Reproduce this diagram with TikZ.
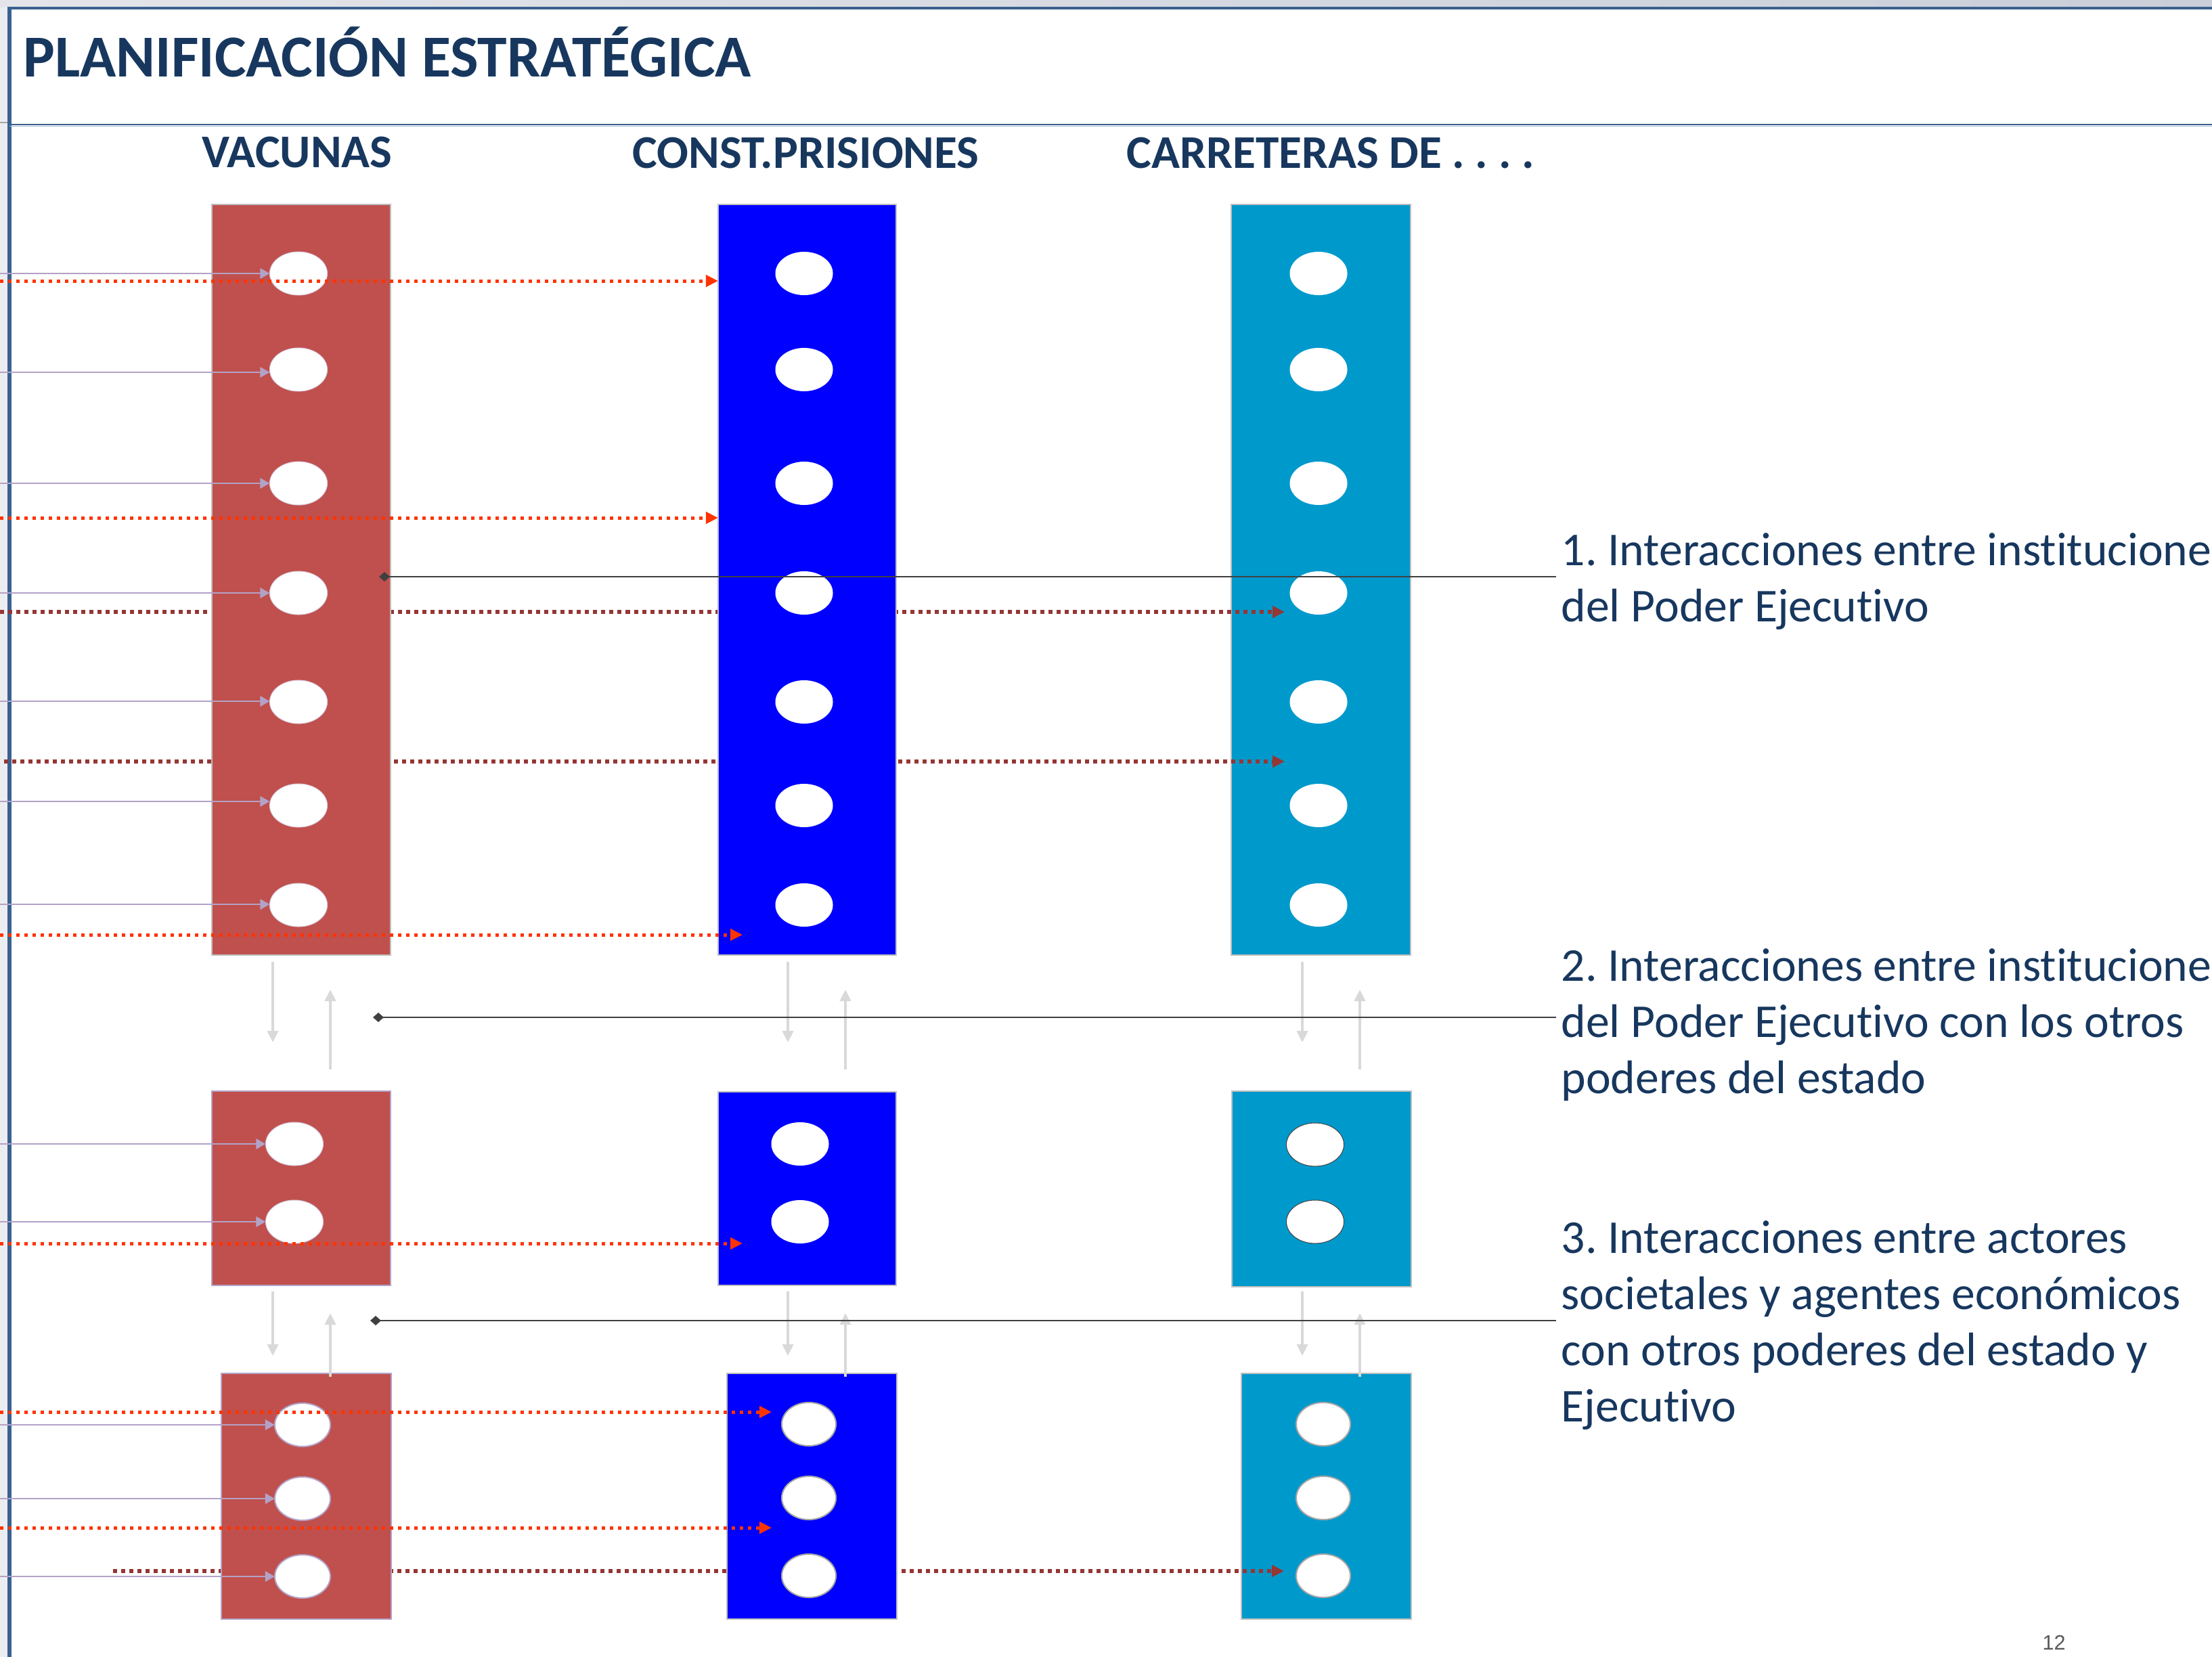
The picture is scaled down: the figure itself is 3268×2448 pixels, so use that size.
\documentclass[tikz,border=0pt]{standalone}
\usepackage{fontspec}
\setmainfont{Carlito}[Ligatures=NoCommon]
\newfontfamily\pagenumfont{Liberation Sans}
\usetikzlibrary{arrows.meta,shapes.geometric}
\definecolor{navy}{HTML}{17375E}
\definecolor{boxred}{HTML}{C0504D}
\definecolor{boxblue}{HTML}{0000FF}
\definecolor{boxteal}{HTML}{0099CC}
\definecolor{boxgray}{HTML}{BFBFBF}
\definecolor{lavend}{HTML}{B3A2C7}
\definecolor{orng}{HTML}{FF3300}
\definecolor{dred}{HTML}{953735}
\definecolor{lgray}{HTML}{D9D9D9}
\definecolor{connc}{HTML}{404040}
\definecolor{frameblue}{HTML}{3A6190}
\definecolor{sidegray}{HTML}{ECEDF1}
\definecolor{topgrayA}{HTML}{E3E5EA}
\definecolor{topgrayB}{HTML}{C9CED8}
\definecolor{rulelight}{HTML}{A9BBD3}
\definecolor{pnum}{HTML}{595959}
\newcommand\textstack[1]{\vtop{\baselineskip=0.83cm\lineskiplimit=-1cm\relax #1}}
\frenchspacing
\begin{document}
\begin{tikzpicture}[x=0.01cm,y=-0.01cm,
  colbox/.style={draw=boxgray,line width=0.02cm,inner sep=0pt,outer sep=0pt},
  hole/.style={ellipse,fill=white,inner sep=0pt,outer sep=0pt,minimum width=0.85cm,minimum height=0.64cm},
  smallhole/.style={hole,minimum width=0.80cm},
  lavarr/.style={draw=lavend,line width=0.028cm,-{Triangle[length=0.14cm,width=0.15cm]}},
  orarr/.style={draw=orng,line width=0.05cm,dash pattern=on 0.05cm off 0.07cm,-{Triangle[length=0.18cm,width=0.17cm]}},
  drarr/.style={draw=dred,line width=0.06cm,dash pattern=on 0.06cm off 0.06cm,-{Triangle[length=0.18cm,width=0.17cm]}},
  garr/.style={draw=lgray,line width=0.04cm,-{Triangle[length=0.17cm,width=0.16cm]}},
  connline/.style={draw=connc,line width=0.025cm,{Diamond[length=0.16cm,width=0.14cm]}-},
  txt/.style={text=navy,inner sep=0pt,anchor=base west},
  headfont/.style={font=\fontsize{19.7pt}{23pt}\selectfont\bfseries},
  bodyfont/.style={font=\fontsize{19.8pt}{23.6pt}\selectfont}
]
\useasboundingbox (0,0) rectangle (3268,2448);
\clip (0,0) rectangle (3268,2448);
\fill[white] (0,0) rectangle (3268,2448);

% slide frame
\fill[sidegray] (0,0) rectangle (11,2448);
\shade[left color=topgrayA,right color=topgrayB] (0,0) rectangle (3268,10);
\draw[frameblue,line width=0.06cm] (14,2448) -- (14,12);
\draw[frameblue,line width=0.045cm] (11,12) -- (3268,12);
\draw[frameblue,line width=0.025cm] (14,184) -- (3268,184);
\draw[rulelight,line width=0.012cm] (14,186.5) -- (3268,186.5);
\draw[gray!70,line width=0.012cm] (0,181) -- (11,181);

% titles
\node[txt,font=\fontsize{25pt}{30pt}\selectfont\bfseries] (title) at (34,113) {PLANIFICACIÓN ESTRATÉGICA};
\node[txt,headfont] (h1) at (298,247) {VACUNAS};
\node[txt,headfont] (h2) at (934,248) {CONST.PRISIONES};
\node[txt,headfont] (h3) at (1664,248) {CARRETERAS DE . . . .};

% teal column (behind the dark red dotted arrows)
\node[colbox,fill=boxteal,minimum width=2.65cm,minimum height=11.09cm] (T1) at (1951.5,856.5) {};
\node[colbox,fill=boxteal,minimum width=2.65cm,minimum height=2.89cm] (T2) at (1952.5,1756.5) {};
\node[colbox,fill=boxteal,minimum width=2.51cm,minimum height=3.63cm] (T3) at (1959.5,2210.5) {};
\foreach \y [count=\i] in {404,546,714,876,1037,1190,1337} {
  \node[hole] (t\i) at (1948,\y) {};
}
\node[hole,draw=connc,line width=0.01cm] (tm1) at (1943,1691) {};
\node[hole,draw=connc,line width=0.01cm] (tm2) at (1943,1805) {};
\node[smallhole,draw=gray!70,line width=0.02cm] (tb1) at (1955,2104) {};
\node[smallhole,draw=gray!70,line width=0.02cm] (tb2) at (1955,2213) {};
\node[smallhole,draw=gray!70,line width=0.02cm] (tb3) at (1955,2328) {};

% dark red dotted arrows
\coordinate (d1) at (0,904);   \coordinate (d1e) at (1898,904);
\coordinate (d2) at (6,1125);  \coordinate (d2e) at (1898,1125);
\coordinate (d3) at (167,2321); \coordinate (d3e) at (1897,2321);
\draw[drarr] (d1) -- (d1e);
\draw[drarr] (d2) -- (d2e);
\draw[drarr] (d3) -- (d3e);

% red and blue columns
\node[colbox,fill=boxred,minimum width=2.64cm,minimum height=11.09cm] (R1) at (445,856.5) {};
\node[colbox,fill=boxblue,minimum width=2.63cm,minimum height=11.09cm] (B1) at (1192.5,856.5) {};
\node[colbox,draw=lavend,fill=boxred,minimum width=2.64cm,minimum height=2.87cm] (R2) at (445,1755.5) {};
\node[colbox,fill=boxblue,minimum width=2.63cm,minimum height=2.86cm] (B2) at (1192.5,1756) {};
\node[colbox,draw=lavend,fill=boxred,minimum width=2.51cm,minimum height=3.63cm] (R3) at (452.5,2210.5) {};
\node[colbox,fill=boxblue,minimum width=2.51cm,minimum height=3.63cm] (B3) at (1199.5,2210.5) {};
\foreach \y [count=\i] in {404,546,714,876,1037,1190,1337} {
  \node[hole,draw=lavend!50,line width=0.01cm] (r\i) at (441,\y) {};
  \node[hole] (b\i) at (1188,\y) {};
}
\node[hole,draw=lavend!60,line width=0.01cm] (rm1) at (435,1690) {};
\node[hole,draw=lavend!60,line width=0.01cm] (rm2) at (435,1805) {};
\node[hole] (bm1) at (1182,1690) {};
\node[hole] (bm2) at (1182,1805) {};
\node[hole,minimum width=0.82cm,draw=lavend,line width=0.02cm] (rb1) at (447,2105) {};
\node[hole,minimum width=0.82cm,draw=lavend,line width=0.02cm] (rb2) at (447,2214) {};
\node[hole,minimum width=0.82cm,draw=lavend,line width=0.02cm] (rb3) at (447,2329) {};
\node[smallhole,draw=gray!70,line width=0.02cm] (bb1) at (1195,2104) {};
\node[smallhole,draw=gray!70,line width=0.02cm] (bb2) at (1195,2213) {};
\node[smallhole,draw=gray!70,line width=0.02cm] (bb3) at (1195,2328) {};

% lavender arrows from the left edge
\foreach \y/\n in {404/r1,550/r2,714/r3,876/r4,1036/r5,1184/r6,1336/r7,1690/rm1,1805/rm2,2105/rb1,2214/rb2,2329/rb3} {
  \coordinate (s-\n) at (0,\y);
  \draw[lavarr] (s-\n) -- (\n.west |- s-\n);
}

% orange dotted arrows
\coordinate (o1) at (0,415);
\coordinate (o2) at (0,765);
\coordinate (o3) at (0,1381);  \coordinate (o3e) at (1097,1381);
\coordinate (o4) at (0,1837);  \coordinate (o4e) at (1097,1837);
\coordinate (o5) at (0,2086);  \coordinate (o5e) at (1140,2086);
\coordinate (o6) at (0,2257);  \coordinate (o6e) at (1140,2257);
\draw[orarr] (o1) -- (B1.west |- o1);
\draw[orarr] (o2) -- (B1.west |- o2);
\draw[orarr] (o3) -- (o3e);
\draw[orarr] (o4) -- (o4e);
\draw[orarr] (o5) -- (o5e);
\draw[orarr] (o6) -- (o6e);

% light gray vertical arrows between the levels
\foreach \c/\xd/\xu in {r/403/488,b/1164/1249,t/1924/2009} {
  \coordinate (\c-da) at (\xd,1421); \coordinate (\c-db) at (\xd,1540);
  \coordinate (\c-ua) at (\xu,1580); \coordinate (\c-ub) at (\xu,1462);
  \coordinate (\c-dc) at (\xd,1908); \coordinate (\c-dd) at (\xd,2003);
  \coordinate (\c-uc) at (\xu,2034); \coordinate (\c-ud) at (\xu,1940);
  \draw[garr] (\c-da) -- (\c-db);
  \draw[garr] (\c-ua) -- (\c-ub);
  \draw[garr] (\c-dc) -- (\c-dd);
  \draw[garr] (\c-uc) -- (\c-ud);
}

% right-hand labels
\node[txt,bodyfont] (lab1) at (2306,835) {\textstack{\hbox{1. Interacciones entre instituciones}\hbox{del Poder Ejecutivo}}};
\node[txt,bodyfont] (lab2) at (2306,1449) {\textstack{\hbox{2. Interacciones entre instituciones}\hbox{del Poder Ejecutivo con los otros}\hbox{poderes del estado}}};
\node[txt,bodyfont] (lab3) at (2306,1851) {\textstack{\hbox{3. Interacciones entre actores}\hbox{societales y agentes económicos}\hbox{con otros poderes del estado y}\hbox{Ejecutivo}}};

% connectors with diamond
\coordinate (dm1) at (560,852);
\coordinate (dm2) at (551,1503);
\coordinate (dm3) at (547,1951);
\draw[connline,shorten >=0.07cm] (dm1) -- (lab1.west |- dm1);
\draw[connline,shorten >=0.07cm] (dm2) -- (lab2.west |- dm2);
\draw[connline,shorten >=0.07cm] (dm3) -- (lab3.west |- dm3);

% page number
\node[anchor=base west,inner sep=0pt,text=pnum,font=\pagenumfont\fontsize{8.7pt}{10pt}\selectfont] (pg) at (3017,2437) {12};
\end{tikzpicture}
\end{document}
